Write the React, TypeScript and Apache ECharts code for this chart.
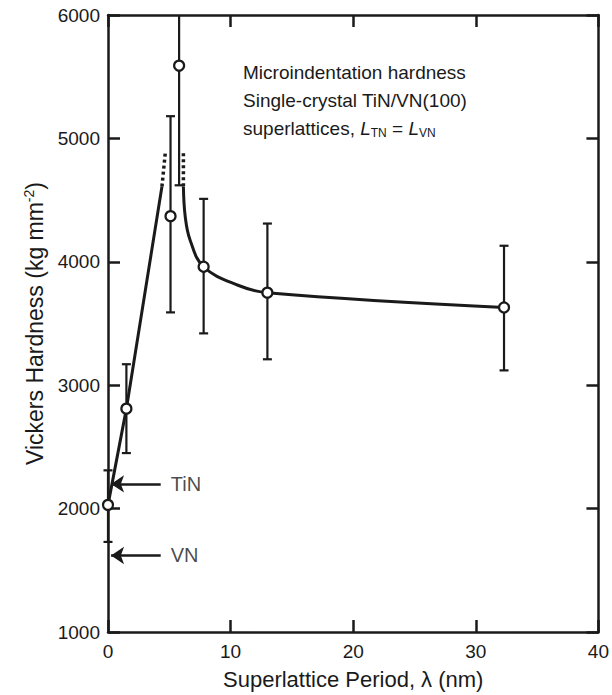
import React, { useEffect, useRef } from "react";
import * as echarts from "echarts";

// Measured data points (superlattice period in nm, Vickers hardness in kg/mm^2)
const periods = [0, 1.5, 5.1, 5.8, 7.8, 13, 32.3];
const hardness = [2030, 2810, 4370, 5590, 3960, 3750, 3630];
const errLow = [1730, 2450, 3590, 4620, 3420, 3210, 3120];
const errHigh = [2310, 3170, 5180, 6000, 4510, 4310, 4130];

// Guide curve drawn through the data
const riseX = [0, 1.5, 4.4];
const riseY = [2030, 2810, 4610];
const riseDotX = [4.4, 4.68];
const riseDotY = [4610, 4890];
const fallDotX = [6.15, 6.15];
const fallDotY = [4880, 4610];
const fallX = [6.15, 6.3, 6.7, 7.8, 10.6, 13, 32.3];
const fallY = [4610, 4365, 4175, 3960, 3810, 3750, 3630];

// Axis ranges
const xMin = 0;
const xMax = 40;
const xStep = 10;
const yMin = 1000;
const yMax = 6000;
const yStep = 1000;

// Reference markers
const refNames = ["TiN", "VN"];
const refLevels = [2200, 1620];
const refArrowFrom = 4.3;
const refArrowTo = 0.25;

const FONT = "Liberation Sans, Arial, Helvetica, sans-serif";
const INK = "#1a1a1a";

const zip = (a: number[], b: number[]) => a.map((v, i) => [v, b[i]]);

export default function App() {
  const ref = useRef<HTMLDivElement>(null);

  useEffect(() => {
    if (!ref.current) return;
    const chart = echarts.init(ref.current, null, { renderer: "svg" });

    const axisLine = { show: true, onZero: false, lineStyle: { color: INK, width: 2.5 } };
    const axisTickIn = { show: true, inside: true, length: 12, lineStyle: { color: INK, width: 2.5 } };

    const lineBase = {
      type: "line",
      showSymbol: false,
      symbol: "none",
      silent: true,
      xAxisIndex: 0,
      yAxisIndex: 0,
    };

    const option: any = {
      animation: false,
      backgroundColor: "#ffffff",
      grid: { left: 108, right: 5, top: 15, bottom: 63, containLabel: false },
      xAxis: [
        {
          type: "value",
          min: xMin,
          max: xMax,
          interval: xStep,
          position: "bottom",
          axisLine,
          axisTick: axisTickIn,
          splitLine: { show: false },
          axisLabel: { color: INK, fontSize: 19, fontFamily: FONT, margin: 10, formatter: (v: number) => String(v) },
          name: "Superlattice Period, λ (nm)",
          nameLocation: "middle",
          nameGap: 36,
          nameTextStyle: { color: INK, fontSize: 22, fontFamily: FONT },
        },
        {
          type: "value",
          min: xMin,
          max: xMax,
          interval: xStep,
          position: "top",
          axisLine,
          axisTick: axisTickIn,
          splitLine: { show: false },
          axisLabel: { show: false },
        },
      ],
      yAxis: [
        {
          type: "value",
          min: yMin,
          max: yMax,
          interval: yStep,
          position: "left",
          axisLine,
          axisTick: axisTickIn,
          splitLine: { show: false },
          axisLabel: { color: INK, fontSize: 19, fontFamily: FONT, margin: 8, formatter: (v: number) => String(v) },
          name: "{a|Vickers Hardness (kg mm}{s|-2}{a|)}",
          nameLocation: "middle",
          nameGap: 60,
          nameTextStyle: {
            color: INK,
            fontFamily: FONT,
            rich: {
              a: { fontSize: 23, fontFamily: FONT, color: INK },
              s: { fontSize: 14, fontFamily: FONT, color: INK, padding: [0, 0, 12, 0] },
            },
          },
        },
        {
          type: "value",
          min: yMin,
          max: yMax,
          interval: yStep,
          position: "right",
          axisLine,
          axisTick: axisTickIn,
          splitLine: { show: false },
          axisLabel: { show: false },
        },
      ],
      series: [
        { ...lineBase, data: zip(riseX, riseY), lineStyle: { color: INK, width: 3 } },
        { ...lineBase, data: zip(riseDotX, riseDotY), lineStyle: { color: INK, width: 3.5, type: [3, 3] } },
        { ...lineBase, data: zip(fallDotX, fallDotY), lineStyle: { color: INK, width: 3.5, type: [3, 3] } },
        { ...lineBase, data: zip(fallX, fallY), smooth: 0.4, lineStyle: { color: INK, width: 3 } },
        {
          type: "custom",
          silent: true,
          data: periods.map((p, i) => [p, errLow[i], errHigh[i]]),
          renderItem: (params: any, api: any) => {
            const x = api.value(0);
            const lo = api.value(1);
            const hi = api.value(2);
            const pLo = api.coord([x, lo]);
            const pHi = api.coord([x, hi]);
            const cap = 4.5;
            const style = { stroke: INK, lineWidth: 2.2 };
            const children: any[] = [
              { type: "line", shape: { x1: pLo[0], y1: pLo[1], x2: pHi[0], y2: pHi[1] }, style },
              { type: "line", shape: { x1: pLo[0] - cap, y1: pLo[1], x2: pLo[0] + cap, y2: pLo[1] }, style },
            ];
            if (hi < yMax) {
              children.push({ type: "line", shape: { x1: pHi[0] - cap, y1: pHi[1], x2: pHi[0] + cap, y2: pHi[1] }, style });
            }
            return { type: "group", children };
          },
          z: 3,
        },
        {
          type: "scatter",
          data: zip(periods, hardness),
          symbol: "circle",
          symbolSize: 10,
          itemStyle: { color: "#ffffff", borderColor: INK, borderWidth: 2.2, opacity: 1 },
          silent: true,
          z: 5,
        },
        {
          type: "line",
          data: [],
          silent: true,
          markLine: {
            silent: true,
            symbol: ["none", "arrow"],
            symbolSize: 13,
            label: { show: false },
            lineStyle: { color: INK, width: 2.5, type: "solid" },
            itemStyle: { color: INK },
            data: refLevels.map((lv) => [
              { coord: [refArrowFrom, lv] },
              { coord: [refArrowTo, lv] },
            ]),
          },
        },
        {
          type: "scatter",
          silent: true,
          symbolSize: 0,
          data: refLevels.map((lv, i) => ({ value: [refArrowFrom, lv], name: refNames[i] })),
          label: {
            show: true,
            position: "right",
            distance: 10,
            formatter: "{b}",
            color: INK,
            fontSize: 20,
            fontFamily: FONT,
          },
        },
      ],
      graphic: [
        {
          type: "text",
          left: 243,
          top: 58,
          style: {
            text: "Microindentation hardness\nSingle-crystal TiN/VN(100)\nsuperlattices, {i|L}{b|TN} = {i|L}{b|VN}",
            fill: INK,
            fontSize: 19,
            fontFamily: FONT,
            lineHeight: 28,
            rich: {
              i: { fontSize: 19, fontStyle: "italic", fontFamily: FONT, fill: INK, lineHeight: 28 },
              b: { fontSize: 12, fontFamily: FONT, fill: INK, padding: [9, 0, 0, 0], lineHeight: 28 },
            },
          },
        },
      ],
    };

    chart.setOption(option);
    return () => chart.dispose();
  }, []);

  return (
    <div
      ref={ref}
      style={{ position: "absolute", left: 0, top: 0, width: 612, height: 695, background: "#fff" }}
    />
  );
}
